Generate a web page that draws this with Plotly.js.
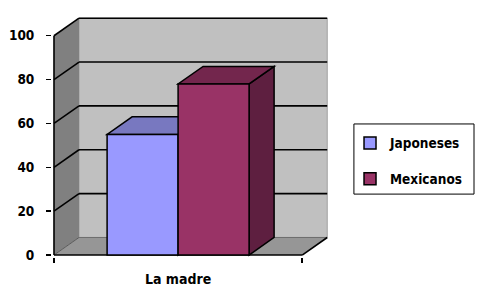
<!DOCTYPE html>
<html>
<head>
<meta charset="utf-8">
<script src="https://cdn.plot.ly/plotly-3.0.1.min.js"></script>
<style>html,body{margin:0;padding:0;background:#fff;}#chart{width:485px;height:290px;}</style>
</head>
<body>
<div id="chart"></div>
<script>
// ---- data ----
var categories = ['La madre'];
var seriesNames = ['Japoneses', 'Mexicanos'];
var japoneses = [55];
var mexicanos = [78];
var yTickVals = [0, 20, 40, 60, 80, 100];

// ---- styles ----
var frontColors = ['#9999FF', '#993366'];
var topColors = ['#7878C0', '#73264D'];
var sideColors = ['#5E5EA0', '#5E1F40'];
var values = [japoneses, mexicanos];

var BARGAP = 0.428;
var DX = 0.1008;   // depth offset in x data units
var DY = 8.0;      // depth offset in y data units
var YMAX = 100;

var traces = seriesNames.map(function (name, i) {
  return {
    type: 'bar', name: name, x: categories, y: values[i],
    marker: {color: frontColors[i], line: {color: '#000', width: 1.5}},
    legendgroup: 'g' + i, hoverinfo: 'skip'
  };
});

var shapes = [];
var L = -0.5, R = 0.5;
// back wall
shapes.push({type: 'rect', xref: 'x', yref: 'y', x0: L + DX, x1: R + DX, y0: DY, y1: YMAX + DY,
  fillcolor: '#C0C0C0', line: {color: '#A0A0A0', width: 1}, layer: 'below'});
// left wall
shapes.push({type: 'path', xref: 'x', yref: 'y',
  path: 'M' + L + ',0 L' + L + ',' + YMAX + ' L' + (L + DX) + ',' + (YMAX + DY) + ' L' + (L + DX) + ',' + DY + ' Z',
  fillcolor: '#808080', line: {width: 0}, layer: 'below'});
// floor
shapes.push({type: 'path', xref: 'x', yref: 'y',
  path: 'M' + L + ',0 L' + R + ',0 L' + (R + DX) + ',' + DY + ' L' + (L + DX) + ',' + DY + ' Z',
  fillcolor: '#969696', line: {width: 0}, layer: 'below'});
// floor back edge & left edge
shapes.push({type: 'line', xref: 'x', yref: 'y', x0: L + DX, x1: R + DX, y0: DY, y1: DY,
  line: {color: '#6E6E6E', width: 1}, layer: 'below'});
shapes.push({type: 'line', xref: 'x', yref: 'y', x0: L, x1: L + DX, y0: 0, y1: DY,
  line: {color: '#5A5A5A', width: 1}, layer: 'below'});
// grid lines (back wall + left wall)
yTickVals.forEach(function (v) {
  if (v === 0) return;
  shapes.push({type: 'line', xref: 'x', yref: 'y', x0: L + DX, x1: R + DX, y0: v + DY, y1: v + DY,
    line: {color: '#000', width: 1.6}, layer: 'below'});
  shapes.push({type: 'line', xref: 'x', yref: 'y', x0: L, x1: L + DX, y0: v, y1: v + DY,
    line: {color: '#000', width: 1.6}, layer: 'below'});
});
// axis lines
shapes.push({type: 'line', xref: 'x', yref: 'y', x0: L, x1: L, y0: 0, y1: YMAX,
  line: {color: '#000', width: 1.6}, layer: 'below'});
shapes.push({type: 'line', xref: 'x', yref: 'y', x0: L, x1: R, y0: 0, y1: 0,
  line: {color: '#000', width: 1.6}, layer: 'below'});
shapes.push({type: 'line', xref: 'x', yref: 'y', x0: R, x1: R + DX, y0: 0, y1: DY,
  line: {color: '#000', width: 1.6}, layer: 'below'});

// 3D faces of bars
var barW = (1 - BARGAP) / seriesNames.length;
seriesNames.forEach(function (name, i) {
  var v = values[i][0];
  var x0 = -(1 - BARGAP) / 2 + i * barW;
  var x1 = x0 + barW;
  shapes.push({type: 'path', xref: 'x', yref: 'y',
    path: 'M' + x1 + ',0 L' + (x1 + DX) + ',' + DY + ' L' + (x1 + DX) + ',' + (v + DY) + ' L' + x1 + ',' + v + ' Z',
    fillcolor: sideColors[i], line: {color: '#000', width: 1.5}, layer: 'below'});
  shapes.push({type: 'path', xref: 'x', yref: 'y',
    path: 'M' + x0 + ',' + v + ' L' + x1 + ',' + v + ' L' + (x1 + DX) + ',' + (v + DY) + ' L' + (x0 + DX) + ',' + (v + DY) + ' Z',
    fillcolor: topColors[i], line: {color: '#000', width: 1.5}, layer: 'below'});
});

// legend box
shapes.push({type: 'rect', xref: 'paper', yref: 'paper', x0: 1.086, x1: 1.518, y0: 0.261, y1: 0.552,
  fillcolor: 'rgba(0,0,0,0)', line: {color: '#000', width: 1}, layer: 'above'});

var FAM = 'DejaVu Sans Condensed, DejaVu Sans, sans-serif';
var font = {family: FAM, size: 14, color: '#000', weight: 'bold'};

var layout = {
  width: 485, height: 290,
  margin: {l: 52, r: 155, t: 16, b: 33, pad: 0, autoexpand: false},
  paper_bgcolor: '#fff', plot_bgcolor: 'rgba(0,0,0,0)',
  font: font,
  barmode: 'group', bargap: BARGAP, bargroupgap: 0,
  showlegend: true,
  legend: {x: 1.072, y: 0.536, xanchor: 'left', yanchor: 'top', bgcolor: 'rgba(0,0,0,0)',
    borderwidth: 0, tracegroupgap: 15, traceorder: 'grouped',
    font: {family: FAM, size: 13.5, color: '#000', weight: 'bold'}},
  xaxis: {type: 'category', range: [-0.508, 0.612], tickson: 'boundaries',
    ticks: 'outside', ticklen: 5, tickcolor: '#000', tickwidth: 1.5,
    showgrid: false, zeroline: false, showline: false, ticklabelstandoff: 12,
    tickfont: font, fixedrange: true},
  yaxis: {range: [-0.9, 109], tickvals: yTickVals, ticks: 'outside', ticklen: 5,
    tickcolor: '#000', tickwidth: 1.5, showgrid: false, zeroline: false, showline: false,
    ticklabelstandoff: 9,
    tickfont: {family: FAM, size: 13.5, color: '#000', weight: 'bold'},
    fixedrange: true},
  shapes: shapes
};

Plotly.newPlot('chart', traces, layout, {displayModeBar: false, staticPlot: true});
</script>
</body>
</html>
